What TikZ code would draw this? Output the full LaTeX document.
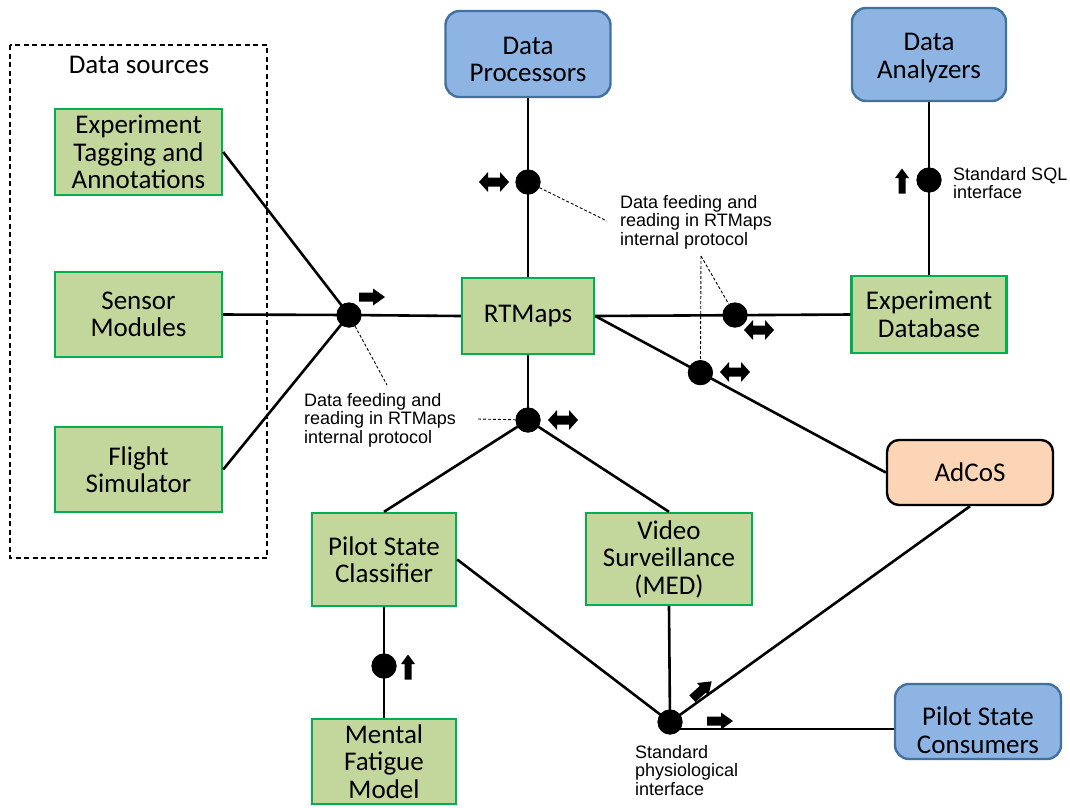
\documentclass[tikz,border=0pt]{standalone}
\usepackage{fontspec}
\setmainfont{Carlito}
\newfontfamily\arialf{Liberation Sans}
\newcommand\bigtxt{\fontsize{27}{27.5}\selectfont}
\newcommand\smtxt{\arialf\fontsize{18}{18.7}\selectfont}
\newcommand\dropby[1]{\rule{0pt}{\dimexpr 20pt+#1\relax}}
\definecolor{fillgreen}{HTML}{C3D69B}
\definecolor{boxgreen}{HTML}{00B050}
\definecolor{fillblue}{HTML}{8EB4E3}
\definecolor{boxblue}{HTML}{41719C}
\definecolor{fillorange}{HTML}{FBD5B5}
\tikzset{
 rarr/.pic={\fill (-13,-4.5) -- (1,-4.5) -- (1,-8.5) -- (13,0) -- (1,8.5) -- (1,4.5) -- (-13,4.5) -- cycle;},
 darr/.pic={\fill (-15,0) -- (-6,-10) -- (-6,-4.5) -- (6,-4.5) -- (6,-10) -- (15,0) -- (6,10) -- (6,4.5) -- (-6,4.5) -- (-6,10) -- cycle;},
 uarr/.pic={\fill (0,-12.5) -- (7,-3) -- (3.5,-3) -- (3.5,12.5) -- (-3.5,12.5) -- (-3.5,-3) -- (-7,-3) -- cycle;}
}
\begin{document}
\begin{tikzpicture}[x=1pt,y=-1pt,
  gbox/.style={draw=boxgreen, fill=fillgreen, line width=2.4pt, align=center, inner sep=0pt, font=\bigtxt},
  bbox/.style={draw=boxblue, fill=fillblue, line width=2.4pt, rounded corners=14pt, align=center, inner sep=0pt, font=\bigtxt},
  obox/.style={draw=black, fill=fillorange, line width=2.4pt, rounded corners=12pt, align=center, inner sep=0pt, font=\bigtxt},
  dot/.style={circle, fill=black, minimum size=25pt, inner sep=0pt},
  conn/.style={line width=2.6pt},
  callout/.style={line width=0.9pt, dash pattern=on 3pt off 2pt},
  small/.style={font=\smtxt, align=left, inner sep=0pt, anchor=north west}
]
\useasboundingbox (0,0) rectangle (1070,807);

% data sources frame
\draw[line width=1.2pt, dash pattern=on 5pt off 3.5pt] (10,45) rectangle (267,558);
\node[font=\bigtxt, inner sep=0pt] (dslabel) at (139,65) {Data sources};

% boxes
\node[gbox, minimum width=167pt, minimum height=86pt] (et) at (138.5,152) {Experiment\\Tagging and\\Annotations};
\node[gbox, minimum width=167pt, minimum height=85pt] (sm) at (138.5,314.5) {Sensor\\Modules};
\node[gbox, minimum width=167pt, minimum height=85pt] (fs) at (138.5,469.5) {Flight\\Simulator};
\node[bbox, minimum width=165pt, minimum height=86pt] (dp) at (528,54) {\dropby{8pt}Data\\Processors};
\node[bbox, minimum width=154pt, minimum height=93pt] (da) at (929,54.5) {\dropby{4pt}Data\\Analyzers};
\node[gbox, minimum width=132pt, minimum height=76pt] (rt) at (528,316) {RTMaps};
\node[gbox, minimum width=155pt, minimum height=77pt] (db) at (929,314.5) {Experiment\\Database};
\node[obox, minimum width=166pt, minimum height=65pt] (ad) at (970,472.5) {AdCoS};
\node[gbox, minimum width=144pt, minimum height=93pt] (psc) at (384,559.5) {Pilot State\\Classifier};
\node[gbox, minimum width=166pt, minimum height=92pt] (vs) at (669,559) {Video\\Surveillance\\(MED)};
\node[gbox, minimum width=144pt, minimum height=85pt] (mf) at (384,761.5) {Mental\\Fatigue\\Model};
\node[bbox, minimum width=166pt, minimum height=75pt] (pc) at (978,721.5) {\dropby{16pt}Pilot State\\Consumers};

% junctions
\node[dot] (j1) at (349,315) {};
\node[dot] (j2) at (528,182) {};
\node[dot] (j3) at (929,180) {};
\node[dot] (j4) at (735,315) {};
\node[dot] (j6) at (528,420) {};
\node[dot] (j7) at (384,666) {};
\node[dot] (j8) at (670,722) {};

% connectors
\draw[conn] (et.east) -- (j1.center);
\draw[conn] (fs.east) -- (j1.center);
\draw[conn] (sm.east) -- (j1.center) -- (rt.west);
\draw[conn] (dp.south) -- (rt.north);
\draw[conn] (da.south) -- (db.north);
\draw[conn] (rt.east) -- (db.west);
\draw[conn] (rt.east) -- node[dot, pos=0.362] (j5) {} (ad.west);
\draw[conn] (rt.south) -- (j6.center);
\draw[conn] (j6.center) -- (psc.north);
\draw[conn] (j6.center) -- (vs.north);
\draw[conn] (psc.east) -- (j8.center);
\draw[conn] (vs.south) -- (j8.center);
\draw[conn] (ad.south) -- (j8.center);
\draw[conn] ([yshift=-7pt]j8.center) -- ([yshift=-7pt]j8.center -| pc.west);
\draw[conn] (psc.south) -- (mf.north);

% redraw dots on top
\foreach \j in {j1,j2,j3,j4,j5,j6,j7,j8} \fill (\j) circle (12.5pt);

% callouts
\coordinate (c1) at (607,221);
\coordinate (c2) at (701,256);
\coordinate (c3) at (387,385);
\coordinate (c4) at (478,419);
\draw[callout] (j2) -- (c1);
\draw[callout] (c2) -- (j4);
\draw[callout] (c2) -- (j5);
\draw[callout] (j1) -- (c3);
\draw[callout] (c4) -- (j6);

% labels
\node[small] (t1) at (620,195) {Data feeding and\\reading in RTMaps\\internal protocol};
\node[small] (t2) at (304,393) {Data feeding and\\reading in RTMaps\\internal protocol};
\node[small] (t3) at (953,167) {Standard SQL\\interface};
\node[small] (t4) at (635,745) {Standard\\physiological\\interface};

% direction arrows
\pic at (372,297) {rarr};
\pic at (494,182) {darr};
\pic at (759,330) {darr};
\pic at (735,372) {darr};
\pic at (563,420) {darr};
\pic at (902,181) {uarr};
\pic at (408,667) {uarr};
\pic[rotate=42] at (702,690) {rarr};
\pic at (720,721) {rarr};
\end{tikzpicture}
\end{document}
